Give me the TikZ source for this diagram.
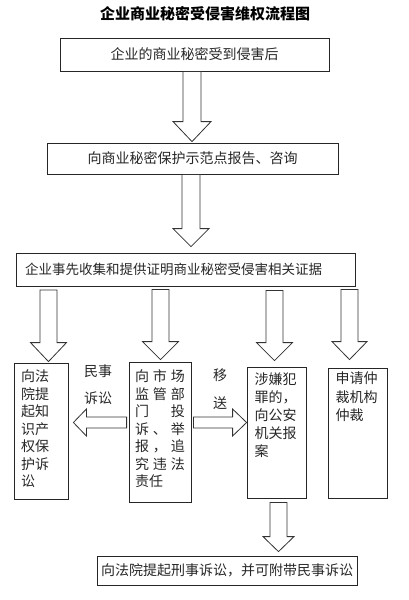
\documentclass[tikz,border=0pt]{standalone}
\usepackage{fontspec}
\newfontfamily\cjk{Noto Sans CJK SC}
\usetikzlibrary{calc}
\tikzset{
  box/.style={draw=black!85, line width=0.8pt, inner sep=0pt, text=black!85,
    font=\cjk\fontsize{14}{17.5}\selectfont},
  blk/.style={draw=black!80, line width=0.8pt, fill=white, line join=miter},
  lbl/.style={inner sep=0pt, text=black!85, font=\cjk\fontsize{14}{17}\selectfont}
}
% block arrow pointing down: #1 start, #2 tip, #3 shaft half width, #4 head half width, #5 head length
\newcommand\bdown[5]{\draw[blk] let \p1=#1, \p2=#2 in
  ({\x1-#3},\y1) -- ({\x1-#3},{\y2+#5}) -- ({\x1-#4},{\y2+#5}) -- (\x1,\y2)
  -- ({\x1+#4},{\y2+#5}) -- ({\x1+#3},{\y2+#5}) -- ({\x1+#3},\y1) -- cycle;}
% horizontal block arrow: #5 signed head length
\newcommand\bhor[5]{\draw[blk] let \p1=#1, \p2=#2 in
  (\x1,{\y1-#3}) -- ({\x2-(#5)},{\y1-#3}) -- ({\x2-(#5)},{\y1-#4}) -- (\x2,\y1)
  -- ({\x2-(#5)},{\y1+#4}) -- ({\x2-(#5)},{\y1+#3}) -- (\x1,{\y1+#3}) -- cycle;}
\begin{document}
\begin{tikzpicture}[x=1pt,y=-1pt]
\useasboundingbox (0,0) rectangle (408,600);

\node[inner sep=0pt, font=\cjk\bfseries\fontsize{15}{15}\selectfont] (title) at (199,14)
  {\makebox[198pt][l]{企\hfill 业\hfill 商\hfill 业\hfill 秘\hfill 密\hfill 受\hfill 侵\hfill 害\hfill 维\hfill 权\hfill 流\hfill 程\hfill 图}};

\node[box, minimum width=269pt, minimum height=33pt] (b1) at (194.5,54.5) {企业的商业秘密受到侵害后};
\node[box, minimum width=291pt, minimum height=31pt] (b2) at (192.5,158.5) {向商业秘密保护示范点报告、咨询};
\node[box, minimum width=339pt, minimum height=33pt, inner xsep=9pt, text width=321pt, align=left,
  font=\cjk\fontsize{13.5}{16}\selectfont] (b3) at (185.5,269.5) {企业事先收集和提供证明商业秘密受侵害相关证据};

\node[box, minimum width=54pt, minimum height=136pt] (bL) at (41,431)
  {\parbox[c][122pt][t]{40pt}{\raggedright 向法\\院提\\起知\\识产\\权保\\护诉\\讼}};
\node[box, minimum width=62pt, minimum height=140pt] (bM) at (160,432)
  {\parbox[c][124pt][t]{50pt}{%
   \makebox[50pt][l]{向\hfill 市\hfill 场}\\
   \makebox[50pt][l]{监\hfill 管\hfill 部}\\
   \makebox[50pt][l]{门\hfill 投}\\
   \makebox[50pt][l]{诉\hfill 、\hfill 举}\\
   \makebox[50pt][l]{报\hfill ，\hfill 追}\\
   \makebox[50pt][l]{究\hfill 违\hfill 法}\\
   \makebox[50pt][l]{责任}}};
\node[box, minimum width=59pt, minimum height=131pt, font=\cjk\fontsize{14}{18}\selectfont] (bC) at (276.5,432.5)
  {\parbox[c][119pt][t]{44pt}{\raggedright 涉嫌犯\\罪的，\\向公安\\机关报\\案}};
\node[box, minimum width=59pt, minimum height=130pt, font=\cjk\fontsize{14}{18.5}\selectfont] (bR) at (357.5,433)
  {\parbox[c][122pt][t]{44pt}{\raggedright 申请仲\\裁机构\\仲裁}};

\node[box, minimum width=260pt, minimum height=29pt] (b5) at (227,570.5) {向法院提起刑事诉讼，并可附带民事诉讼};

\node[lbl] (l1) at (98,371) {民事};
\node[lbl] (l2) at (98,398) {诉讼};
\node[lbl] (l3) at (220,375) {移};
\node[lbl] (l4) at (220,403) {送};

\coordinate (hy) at (0,422.5);
\bdown{(192,0 |- b1.south)}{($(192,0 |- b2.north)+(0,-1)$)}{9pt}{19pt}{20pt}
\bdown{(191,0 |- b2.south)}{($(191,0 |- b3.north)+(0,-6)$)}{9pt}{18pt}{18pt}
\bdown{($(48.5,0 |- b3.south)+(0,3.5)$)}{($(48.5,0 |- bL.north)+(0,-1)$)}{8.5pt}{18pt}{19pt}
\bdown{($(160.5,0 |- b3.south)+(0,3)$)}{($(160.5,0 |- bM.north)+(0,-2)$)}{8.5pt}{18pt}{18pt}
\bdown{($(274.5,0 |- b3.south)+(0,4)$)}{($(274.5,0 |- bC.north)+(0,-6)$)}{8.5pt}{18pt}{18pt}
\bdown{($(349.5,0 |- b3.south)+(0,3)$)}{($(349.5,0 |- bR.north)+(0,-8)$)}{8.5pt}{17.5pt}{18pt}
\bdown{($(278.5,0 |- bC.south)+(0,4)$)}{($(278.5,0 |- b5.north)+(0,-4)$)}{8.5pt}{15.5pt}{15pt}

\bhor{($(bM.west |- hy)+(-2,0)$)}{($(bL.east |- hy)+(5,0)$)}{5.5pt}{13.5pt}{-13pt}
\bhor{($(bM.east |- hy)+(2,0)$)}{(bC.west |- hy)}{5.5pt}{13.5pt}{14pt}
\end{tikzpicture}
\end{document}
